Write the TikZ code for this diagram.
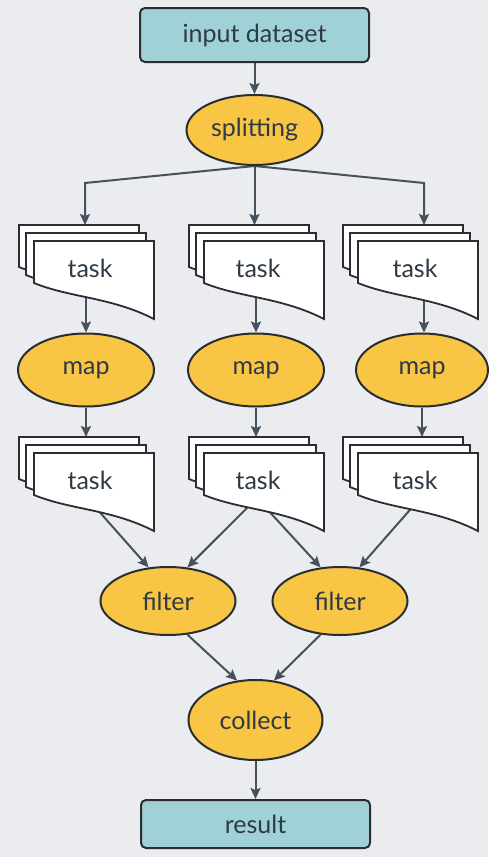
\documentclass[tikz,border=0pt]{standalone}
\usepackage{fontspec}
\setmainfont{Lato}
\usetikzlibrary{shapes.geometric,arrows.meta}
\definecolor{bgc}{HTML}{EAECEF}
\definecolor{tealc}{HTML}{9FD1D7}
\definecolor{goldc}{HTML}{F8C545}
\definecolor{edgec}{HTML}{2A2E33}
\definecolor{arrowc}{HTML}{46515E}
\definecolor{txtc}{HTML}{2E3A44}
\pgfdeclarelayer{bglayer}
\pgfdeclarelayer{edgelayer}
\pgfsetlayers{bglayer,edgelayer,main}
\tikzset{
  txt/.style={text=txtc, font=\fontsize{25}{29}\selectfont, inner sep=0pt},
  boxnode/.style={txt, draw=edgec, line width=2pt, fill=tealc, rounded corners=5pt, minimum width=229pt},
  oval/.style={txt, ellipse, draw=edgec, line width=2pt, fill=goldc},
  sheet/.style={draw=edgec, line width=1.8pt, fill=white, line join=miter},
  arr/.style={draw=arrowc, line width=2pt, -{Stealth[length=11pt,width=10pt,inset=2pt]}},
  ln/.style={draw=arrowc, line width=2pt}
}
\newcommand{\docstack}[4]{%
  \begin{scope}[shift={(#2,#3)}]
    \foreach \dx/\dy in {-67/0,-60/8,-52/16}{
      \begin{scope}[shift={(\dx,\dy)}]
        \filldraw[sheet] (0,0) -- (120,0) -- (120,78) .. controls (77,56) and (37,57) .. (0,42) -- cycle;
      \end{scope}
    }
    \coordinate (#1-top) at (0,0);
    \node[txt] (#1) at (#4,43) {task};
  \end{scope}}
\begin{document}
\begin{tikzpicture}[x=1pt,y=-1pt]
\begin{pgfonlayer}{bglayer}
  \fill[bgc] (0,0) rectangle (488,857);
\end{pgfonlayer}
\useasboundingbox (0,0) rectangle (488,857);

\node[boxnode, minimum height=54pt] (in) at (254.5,35) {input dataset};
\node[oval, minimum width=136pt, minimum height=70pt] (split) at (254.5,130) {splitting};

\docstack{t1}{86}{225}{4}
\docstack{t2}{256}{225}{2}
\docstack{t3}{410}{225}{5}

\node[oval, minimum width=136pt, minimum height=73pt] (m1) at (86,370) {map};
\node[oval, minimum width=136pt, minimum height=73pt] (m2) at (256,370) {map};
\node[oval, minimum width=132pt, minimum height=73pt] (m3) at (422,370) {map};

\docstack{u1}{86}{437}{4}
\docstack{u2}{256}{437}{2}
\docstack{u3}{410}{437}{5}

\node[oval, minimum width=135pt, minimum height=68pt] (f1) at (168,601) {filter};
\node[oval, minimum width=135pt, minimum height=68pt] (f2) at (340,601) {filter};
\node[oval, minimum width=134pt, minimum height=80pt] (col) at (255.5,720) {collect};
\node[boxnode, minimum height=48pt] (res) at (255.5,824) {result};

\coordinate (sL) at (85,183);
\coordinate (sR) at (424,183);
\coordinate (a1) at (96,508);
\coordinate (a2) at (252,503);
\coordinate (a3) at (266,508);
\coordinate (a4) at (416,503);

\begin{pgfonlayer}{edgelayer}
  \draw[arr] (in) -- (split);
  \draw[arr] (split.south) -- (sL) -- (sL |- t1-top);
  \draw[arr] (split.south) -- (split.south |- t2-top);
  \draw[arr] (split.south) -- (sR) -- (sR |- t3-top);
  \draw[arr] (t1 -| m1.north) -- (m1.north);
  \draw[arr] (t2 -| m2.north) -- (m2.north);
  \draw[arr] (t3 -| sR) -- (sR |- m3.north);
  \draw[arr] (m1.south) -- (m1.south |- u1-top);
  \draw[arr] (m2.south) -- (m2.south |- u2-top);
  \draw[arr] (m3.south) -- (m3.south |- u3-top);
  \draw[arr] (a1) -- (f1.120);
  \draw[arr] (a2) -- (f1.60);
  \draw[arr] (a3) -- (f2.120);
  \draw[arr] (a4) -- (f2.60);
  \draw[arr] (f1.-60) -- (col.115);
  \draw[arr] (f2.-120) -- (col.65);
  \draw[arr] (col) -- (res);
\end{pgfonlayer}
\end{tikzpicture}
\end{document}
